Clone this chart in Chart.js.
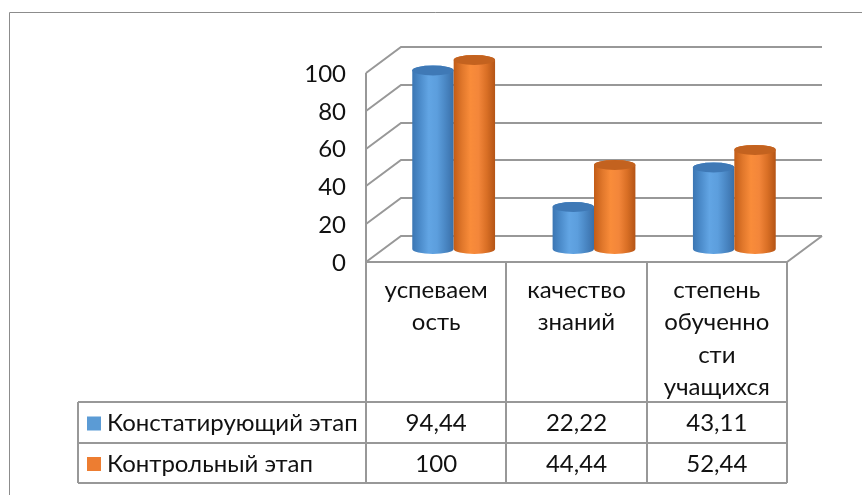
<!DOCTYPE html>
<html lang="ru">
<head>
<meta charset="utf-8">
<title>Констатирующий и контрольный этап</title>
<script src="https://cdn.jsdelivr.net/npm/chart.js"></script>
<style>
  html, body { margin: 0; padding: 0; background: #fff; }
  #wrap { position: relative; width: 862px; height: 495px; }
</style>
</head>
<body>
<div id="wrap"><canvas id="chart" width="862" height="495"></canvas></div>
<script>
/* ---------- DATA ---------- */
const categories = [['успеваем', 'ость'], ['качество', 'знаний'], ['степень', 'обученно', 'сти', 'учащихся']];
const seriesNames = ['Констатирующий этап', 'Контрольный этап'];
const stage1 = [94.44, 22.22, 43.11];
const stage2 = [100, 44.44, 52.44];
const yTicks = [0, 20, 40, 60, 80, 100];

/* ---------- LOOK ---------- */
const FONT = "24px Lato, Roboto, sans-serif";
const GRID = '#989898';
const DX = 35, DY = -26;            // depth of the 3d box
const ROWS = [402, 443, 483];       // table row lines
const TABLE_LEFT = 78;
const looks = [
  { key: '#5b9bd5', top: '#3f79b6', body: ['#3b76b3', '#4d8dcc', '#62a5e4', '#5c9edd', '#4a87c4', '#3a6fa8'] },
  { key: '#ed7d31', top: '#c3621f', body: ['#c25c17', '#e0772b', '#f98c3a', '#f3863a', '#d96f25', '#b45416'] }
];

const fmt = v => String(v).replace('.', ',');

function cylinder(ctx, el, look) {
  const rx = el.width / 2, ry = 5;
  const cx = el.x + DX / 2, top = el.y + DY / 2, bot = el.base + DY / 2;
  const g = ctx.createLinearGradient(cx - rx, 0, cx + rx, 0);
  look.body.forEach((c, k) => g.addColorStop(k / (look.body.length - 1), c));
  ctx.beginPath();
  ctx.moveTo(cx - rx, top);
  ctx.lineTo(cx - rx, bot);
  ctx.ellipse(cx, bot, rx, ry, 0, Math.PI, 0, true);
  ctx.lineTo(cx + rx, top);
  ctx.ellipse(cx, top, rx, ry, 0, 0, Math.PI, true);
  ctx.closePath();
  ctx.fillStyle = g;
  ctx.fill();
  ctx.beginPath();
  ctx.ellipse(cx, top, rx, ry, 0, 0, Math.PI * 2);
  ctx.fillStyle = look.top;
  ctx.fill();
}

function line(ctx, pts) {
  ctx.beginPath();
  ctx.moveTo(pts[0][0], pts[0][1]);
  pts.slice(1).forEach(p => ctx.lineTo(p[0], p[1]));
  ctx.stroke();
}

const box3d = {
  id: 'box3d',
  beforeDatasetsDraw(chart) {
    const ctx = chart.ctx, a = chart.chartArea, y = chart.scales.y;
    ctx.save();
    // outer frame
    ctx.strokeStyle = '#8c8c8c';
    ctx.lineWidth = 1;
    line(ctx, [[9.5, 495], [9.5, 12.5], [862, 12.5]]);

    // walls and gridlines
    ctx.strokeStyle = GRID;
    ctx.lineWidth = 2;
    yTicks.forEach(t => {
      const py = Math.round(y.getPixelForValue(t));
      line(ctx, [[a.left, py], [a.left + DX, py + DY], [a.right + DX, py + DY]]);
    });
    line(ctx, [[a.left, a.top], [a.left, a.bottom]]);
    line(ctx, [[a.left, a.bottom], [a.right, a.bottom], [a.right + DX, a.bottom + DY]]);

    // value axis labels
    ctx.fillStyle = '#111';
    ctx.font = FONT;
    ctx.textAlign = 'right';
    ctx.textBaseline = 'middle';
    yTicks.forEach(t => ctx.fillText(String(t), 346, y.getPixelForValue(t) + 1));
    ctx.restore();
  },
  afterDatasetsDraw(chart) {
    const ctx = chart.ctx;
    ctx.save();
    categories.forEach((c, i) => {
      chart.data.datasets.forEach((ds, d) => {
        cylinder(ctx, chart.getDatasetMeta(d).data[i], looks[d]);
      });
    });
    ctx.restore();
  },
  afterDraw(chart) {
    const ctx = chart.ctx, a = chart.chartArea, x = chart.scales.x;
    const colW = (a.right - a.left) / categories.length;
    ctx.save();
    ctx.strokeStyle = GRID;
    ctx.lineWidth = 2;
    for (let k = 0; k <= categories.length; k++) {
      const px = Math.round(a.left + k * colW);
      line(ctx, [[px, a.bottom], [px, ROWS[2]]]);
    }
    ROWS.forEach(r => line(ctx, [[TABLE_LEFT, r], [a.right, r]]));
    line(ctx, [[TABLE_LEFT, ROWS[0]], [TABLE_LEFT, ROWS[2]]]);

    ctx.fillStyle = '#111';
    ctx.font = FONT;
    ctx.textAlign = 'center';
    ctx.textBaseline = 'middle';
    categories.forEach((c, i) => {
      const cx = x.getPixelForValue(i);
      c.forEach((t, j) => ctx.fillText(t, cx, a.bottom + 28 + j * 32.5));
    });

    chart.data.datasets.forEach((ds, d) => {
      const cy = (ROWS[d] + ROWS[d + 1]) / 2 + 1;
      ctx.fillStyle = looks[d].key;
      ctx.fillRect(TABLE_LEFT + 9, cy - 7, 14, 14);
      ctx.fillStyle = '#111';
      ctx.textAlign = 'left';
      ctx.fillText(seriesNames[d], TABLE_LEFT + 29, cy);
      ctx.textAlign = 'center';
      ds.data.forEach((v, i) => ctx.fillText(fmt(v), x.getPixelForValue(i), cy));
    });
    ctx.restore();
  }
};

new Chart(document.getElementById('chart'), {
  type: 'bar',
  data: {
    labels: categories,
    datasets: [
      { label: seriesNames[0], data: stage1, backgroundColor: 'rgba(0,0,0,0)' },
      { label: seriesNames[1], data: stage2, backgroundColor: 'rgba(0,0,0,0)' }
    ]
  },
  options: {
    responsive: false,
    animation: false,
    devicePixelRatio: 1,
    layout: { padding: { left: 366, right: 75, top: 73, bottom: 233 } },
    datasets: { bar: { categoryPercentage: 0.59, barPercentage: 1, borderWidth: 0 } },
    scales: {
      x: { display: false },
      y: { display: false, min: 0, max: 100 }
    },
    plugins: { legend: { display: false }, tooltip: { enabled: false } }
  },
  plugins: [box3d]
});
</script>
</body>
</html>
